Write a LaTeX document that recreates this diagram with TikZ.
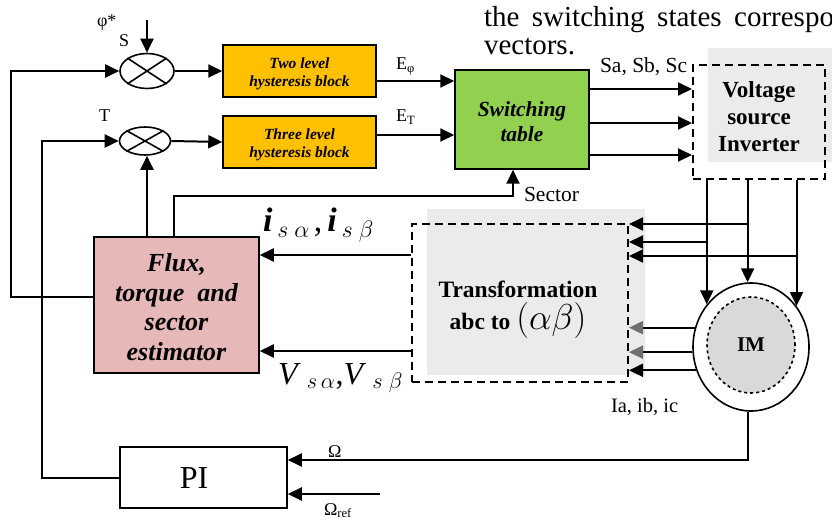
\RequirePackage{fix-cm}
\documentclass[tikz,border=0pt]{standalone}
\usepackage{fontspec}
\setmainfont{Liberation Serif}
\usetikzlibrary{arrows.meta,shapes.geometric}
\newcommand{\fsz}[2]{\fontsize{#1}{#2}\selectfont}
\definecolor{orangebox}{HTML}{FFC000}
\definecolor{greenbox}{HTML}{92D050}
\definecolor{pinkbox}{HTML}{E6B8B7}
\definecolor{shadegray}{HTML}{EBEBEB}
\definecolor{motorgray}{HTML}{D9D9D9}
\definecolor{arrowgray}{HTML}{707070}
\tikzset{
  blk/.style={draw, line width=1.5pt, rectangle, inner sep=0pt, align=center},
  hyst/.style={blk, fill=orangebox, minimum width=153pt, minimum height=52pt},
  dashbox/.style={draw, line width=2pt, dash pattern=on 8pt off 5pt, rectangle, inner sep=0pt},
  sumj/.style={draw, line width=1.6pt, ellipse, inner sep=0pt},
  lbl/.style={inner sep=0pt, font=\fsz{18}{20}},
  txt/.style={inner sep=0pt, align=center},
  garrow/.style={-{Triangle[length=14pt,width=13pt,color=arrowgray]}},
}
\begin{document}
\begin{tikzpicture}[x=1pt,y=-1pt,line width=2pt,>={Triangle[length=14pt,width=13pt]}]
\useasboundingbox (0,0) rectangle (832,521);
% background shades
\fill[shadegray] (708,48) rectangle (832,162);
\fill[shadegray] (427,209) rectangle (645,375);
% top text
\node[anchor=base west, inner sep=0pt, font=\fsz{29}{30}] (t1) at (483,27) {the\hspace{12.5pt}switching\hspace{12.5pt}states\hspace{12.5pt}correspo};
\node[anchor=base west, inner sep=0pt, font=\fsz{29}{30}] (t2) at (483,55) {vectors.};
% summing junctions
\node[sumj, minimum width=54pt, minimum height=35pt] (s1) at (147,71) {};
\draw[line width=1.6pt] (s1.north west) -- (s1.south east) (s1.north east) -- (s1.south west);
\node[sumj, minimum width=51pt, minimum height=28pt] (s2) at (145,141) {};
\draw[line width=1.6pt] (s2.north west) -- (s2.south east) (s2.north east) -- (s2.south west);
\coordinate (phin) at (147,20);
\draw[->] (phin) -- (s1.north);
\node[lbl, anchor=base west] (phil) at (96,27) {φ*};
\node[lbl, anchor=base west] (sl) at (118,47) {S};
\node[lbl, anchor=base west] (tl) at (98,122) {T};
% hysteresis blocks
\node[hyst] (h1) at (299.5,71) {};
\node[txt, font=\fsz{15.5}{17.5}\bfseries\itshape] (h1t) at (299.5,74) {Two level\\hysteresis block};
\node[hyst] (h2) at (299.5,142) {};
\node[txt, font=\fsz{15.5}{17.5}\bfseries\itshape] (h2t) at (299.5,145) {Three level\\hysteresis block};
\draw[->] (s1.east) -- (h1.west);
\draw[->] (s2.east) -- (h2.west);
% switching table
\node[blk, fill=greenbox, minimum width=134pt, minimum height=99pt] (sw) at (522,119.5) {};
\node[txt, font=\fsz{21.5}{25}\bfseries\itshape] (swt) at (522,122) {Switching\\table};
\coordinate (ep) at ([yshift=-10pt]h1.east);
\coordinate (et) at ([yshift=7pt]h2.east);
\draw[->] (ep) -- (ep -| sw.west);
\draw[->] (et) -- (et -| sw.west);
\node[lbl, anchor=base west] (epl) at (395,70) {E\textsubscript{φ}};
\node[lbl, anchor=base west] (etl) at (395,122) {E\textsubscript{T}};
% VSI
\node[dashbox, minimum width=132pt, minimum height=114pt] (vsi) at (759,122) {};
\node[txt, font=\fsz{23}{27}\bfseries] (vsit) at (759,117) {Voltage\\source\\Inverter};
\foreach \s/\n in {30.5/a,-3.5/b,-35.5/c}{
  \coordinate (o\n) at ([yshift=\s pt]sw.east);
  \draw[->] (o\n) -- (o\n -| vsi.west);
}
\node[lbl, anchor=base west, font=\fsz{21.5}{22}] (sabc) at (599,73) {Sa, Sb, Sc};
% estimator
\node[blk, fill=pinkbox, minimum width=165pt, minimum height=136pt] (est) at (176.5,305) {};
\node[txt, font=\fsz{26}{29.5}\bfseries\itshape] (estt) at (176.5,307) {Flux,\\torque~ and\\sector\\estimator};
\draw[->] ([yshift=8pt]est.west) -- ++(-82,0) |- (s1.west);
\draw[->] ([xshift=-29.5pt]est.north) -- ([xshift=-29.5pt]est.north |- s2.south);
\draw[->] ([xshift=-2.5pt]est.north) -- ++(0,-40) -| ([xshift=-9pt]sw.south);
\node[lbl, anchor=base west, font=\fsz{21.5}{22}] (secl) at (523,202) {Sector};
% transformation
\node[dashbox, minimum width=216pt, minimum height=158pt] (tf) at (520,303) {};
\node[txt, font=\fsz{23.5}{32}\bfseries] (tft) at (518,310) {Transformation\\abc to {\fsz{36}{32}\mdseries$(\alpha\beta)$}};
\coordinate (ti) at ([yshift=48pt]tf.west);
\coordinate (tv) at ([yshift=-48pt]tf.west);
\draw[->] (ti) -- (ti -| est.east);
\draw[->] (tv) -- (tv -| est.east);
\node[inner sep=0pt, anchor=base west, font=\fsz{34}{38}] (il) at (262,232) {\textbf{\textit{i}}$_{\hspace{5pt}s\hspace{6pt}\alpha}$\hspace{4pt},\hspace{5pt}\textbf{\textit{i}}$_{\hspace{5pt}s\hspace{6pt}\beta}$};
\node[inner sep=0pt, anchor=base west, font=\fsz{32}{34}] (vl) at (277,384) {\textit{V}$_{\;s\,\alpha}$,\textit{V}$_{\;s\;\beta}$};
% motor
\node[draw, line width=1.6pt, ellipse, inner sep=0pt, minimum width=116pt, minimum height=128pt] (im) at (751,347) {};
\node[draw, line width=1.6pt, dashed, fill=motorgray, ellipse, inner sep=0pt, minimum width=88pt, minimum height=96pt, font=\fsz{21}{22}\bfseries] (imi) at (751,345) {IM};
\draw[->] (im.136 |- vsi.south) -- (im.136);
\draw[->] (im.93.6 |- vsi.south) -- (im.93.6);
\draw[->] (im.42 |- vsi.south) -- (im.42);
\coordinate (ta) at ([yshift=79pt]tf.east);
\coordinate (tb) at ([yshift=61pt]tf.east);
\coordinate (tc) at ([yshift=47pt]tf.east);
\draw[->] (im.93.6 |- ta) -- (ta);
\draw[->] (im.136 |- tb) -- (tb);
\draw[->] (im.42 |- tc) -- (tc);
\draw[garrow] (im.161) -- (im.161 -| tf.east);
\draw[garrow] (im.185) -- (im.185 -| tf.east);
\draw[->] (im.203) -- (im.203 -| tf.east);
\node[lbl, anchor=base west, font=\fsz{20.5}{22}] (iabc) at (610,412) {Ia, ib, ic};
% PI
\node[blk, minimum width=167pt, minimum height=61pt] (pi) at (203.5,477.5) {};
\node[txt, font=\fsz{32}{34}] (pit) at (194,478) {PI};
\coordinate (pa) at ([yshift=17.5pt]pi.east);
\coordinate (pb) at ([yshift=-16.5pt]pi.east);
\coordinate (oref) at (380,494);
\draw[->] (im.-93.6) |- (pa);
\draw[->] (oref) -- (pb);
\draw[->] (pi.west) -- ++(-77,0) |- (s2.west);
\node[lbl, anchor=base west] (oml) at (327,457) {Ω};
\node[lbl, anchor=base west] (orl) at (323,515) {Ω\textsubscript{ref}};
\end{tikzpicture}
\end{document}
